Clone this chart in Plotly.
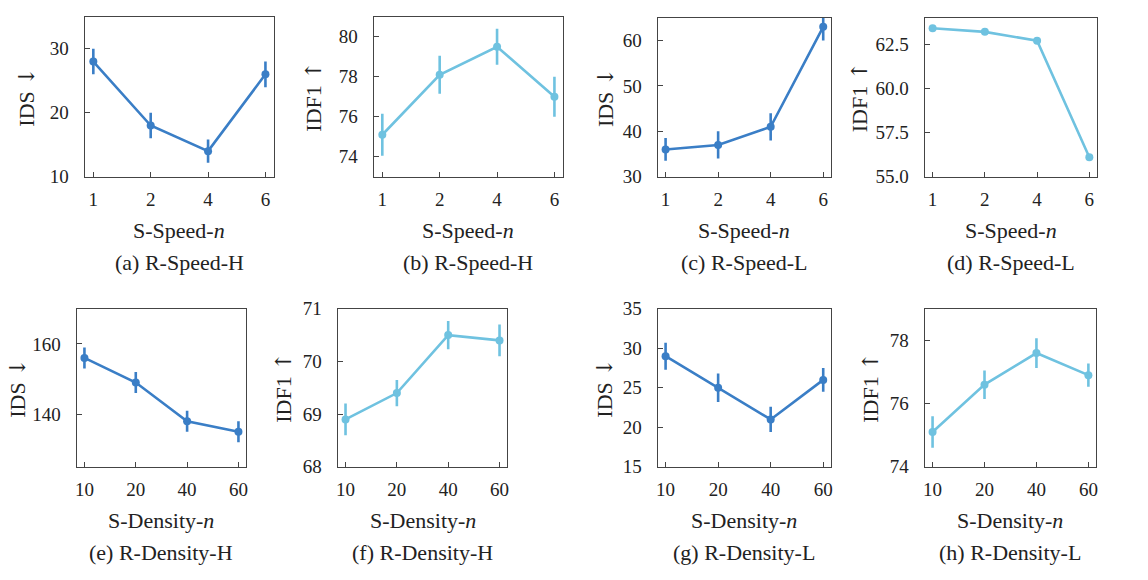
import plotly.graph_objects as go

# ---------------- data ----------------
speed_n = ["1", "2", "4", "6"]
density_n = ["10", "20", "40", "60"]

a_ids = [28, 18, 14, 26]
a_err = [2.0, 2.0, 1.8, 2.0]
b_idf1 = [75.1, 78.1, 79.5, 77.0]
b_err = [1.05, 0.95, 0.9, 1.0]
c_ids = [36, 37, 41, 63]
c_err = [2.5, 3.0, 3.0, 3.0]
d_idf1 = [63.4, 63.2, 62.7, 56.1]

e_ids = [156, 149, 138, 135]
e_err = [3.0, 3.0, 3.0, 3.0]
f_idf1 = [68.9, 69.4, 70.5, 70.4]
f_err = [0.3, 0.25, 0.27, 0.3]
g_ids = [29, 25, 21, 26]
g_err = [1.7, 1.8, 1.6, 1.5]
h_idf1 = [75.1, 76.6, 77.6, 76.9]
h_err = [0.5, 0.45, 0.47, 0.37]

captions = ["(a) R-Speed-H", "(b) R-Speed-H", "(c) R-Speed-L", "(d) R-Speed-L",
            "(e) R-Density-H", "(f) R-Density-H", "(g) R-Density-L", "(h) R-Density-L"]

DARK = "#3a7ec6"
LIGHT = "#6fc2e0"
AX = "#444444"
FONT = "Liberation Serif, Times New Roman, serif"
ARROW = "<span style='font-family:DejaVu Serif'>{}</span>"

W, H = 1148, 580

# panel pixel boxes: left, right, top, bottom
boxes = [
    (83, 273, 7, 173), (373, 563, 7, 173), (658, 832, 8, 173), (926, 1099, 8, 173),
    (75, 245, 310, 474), (337, 507, 310, 474), (658, 832, 310, 474), (926, 1098, 310, 474),
]
ytitle_x = [25, 313, 605, 860, 16, 283, 605, 872]

IDS = "IDS " + ARROW.format("↓")
IDF = "IDF1 " + ARROW.format("↑")

panels = [
    dict(x=speed_n, y=a_ids, err=a_err, color=DARK, ytitle=IDS, xtitle="S-Speed-<i>n</i>",
         yrange=[10, 35], ticks=[10, 20, 30], fmt=None),
    dict(x=speed_n, y=b_idf1, err=b_err, color=LIGHT, ytitle=IDF, xtitle="S-Speed-<i>n</i>",
         yrange=[73, 81], ticks=[74, 76, 78, 80], fmt=None),
    dict(x=speed_n, y=c_ids, err=c_err, color=DARK, ytitle=IDS, xtitle="S-Speed-<i>n</i>",
         yrange=[30, 65], ticks=[30, 40, 50, 60], fmt=None),
    dict(x=speed_n, y=d_idf1, err=None, color=LIGHT, ytitle=IDF, xtitle="S-Speed-<i>n</i>",
         yrange=[55, 64], ticks=[55, 57.5, 60, 62.5], fmt=".1f"),
    dict(x=density_n, y=e_ids, err=e_err, color=DARK, ytitle=IDS, xtitle="S-Density-<i>n</i>",
         yrange=[125, 170], ticks=[140, 160], fmt=None),
    dict(x=density_n, y=f_idf1, err=f_err, color=LIGHT, ytitle=IDF, xtitle="S-Density-<i>n</i>",
         yrange=[68, 71], ticks=[68, 69, 70, 71], fmt=None),
    dict(x=density_n, y=g_ids, err=g_err, color=DARK, ytitle=IDS, xtitle="S-Density-<i>n</i>",
         yrange=[15, 35], ticks=[15, 20, 25, 30, 35], fmt=None),
    dict(x=density_n, y=h_idf1, err=h_err, color=LIGHT, ytitle=IDF, xtitle="S-Density-<i>n</i>",
         yrange=[74, 79], ticks=[74, 76, 78], fmt=None),
]


def fx(px):
    return px / W


def fy(py):
    return 1 - py / H


fig = go.Figure()
layout = {}
annotations = []

for i, (p, box) in enumerate(zip(panels, boxes)):
    k = "" if i == 0 else str(i + 1)
    l, r, t, b = box
    err = None
    if p["err"] is not None:
        err = dict(type="data", array=p["err"], visible=True, width=0,
                   thickness=2.6, color=p["color"])
    fig.add_trace(go.Scatter(
        x=p["x"], y=p["y"], error_y=err, mode="lines+markers",
        line=dict(color=p["color"], width=2.6),
        marker=dict(color=p["color"], size=8),
        xaxis="x" + k, yaxis="y" + k, showlegend=False, cliponaxis=False,
    ))
    layout["xaxis" + k] = dict(
        domain=[fx(l), fx(r)], anchor="y" + k, type="category",
        categoryorder="array", categoryarray=p["x"],
        range=[-0.15, 3.15], showline=True, linecolor=AX, linewidth=1.4, mirror=True,
        ticks="inside", ticklen=5, tickwidth=1.2, tickcolor=AX, showgrid=False,
        zeroline=False, tickfont=dict(family=FONT, size=19, color="#222"),
        ticklabelstandoff=5,
    )
    ya = dict(
        domain=[fy(b), fy(t)], anchor="x" + k, range=p["yrange"],
        tickvals=p["ticks"], showline=True, linecolor=AX, linewidth=1.4, mirror=True,
        ticks="inside", ticklen=5, tickwidth=1.2, tickcolor=AX, showgrid=False,
        zeroline=False, tickfont=dict(family=FONT, size=19, color="#222"),
        ticklabelstandoff=11,
    )
    if p["fmt"]:
        ya["tickformat"] = p["fmt"]
    layout["yaxis" + k] = ya

    cx = fx((l + r) / 2)
    annotations.append(dict(text=p["xtitle"], x=cx, y=fy(b + 56),
                            xref="paper", yref="paper", showarrow=False,
                            xanchor="center", yanchor="middle",
                            font=dict(family=FONT, size=22, color="#222")))
    annotations.append(dict(text=captions[i], x=cx, y=fy(b + 89),
                            xref="paper", yref="paper", showarrow=False,
                            xanchor="center", yanchor="middle",
                            font=dict(family=FONT, size=22, color="#222")))
    annotations.append(dict(text=p["ytitle"], x=fx(ytitle_x[i]), y=fy((t + b) / 2),
                            xref="paper", yref="paper", showarrow=False, textangle=-90,
                            xanchor="center", yanchor="middle",
                            font=dict(family=FONT, size=22, color="#222")))

fig.update_layout(
    width=W, height=H, margin=dict(l=0, r=0, t=0, b=0),
    paper_bgcolor="white", plot_bgcolor="white",
    annotations=annotations, **layout,
)

fig.write_html("out.html", config={"displayModeBar": False},
               post_script="document.body.style.margin='0';")
